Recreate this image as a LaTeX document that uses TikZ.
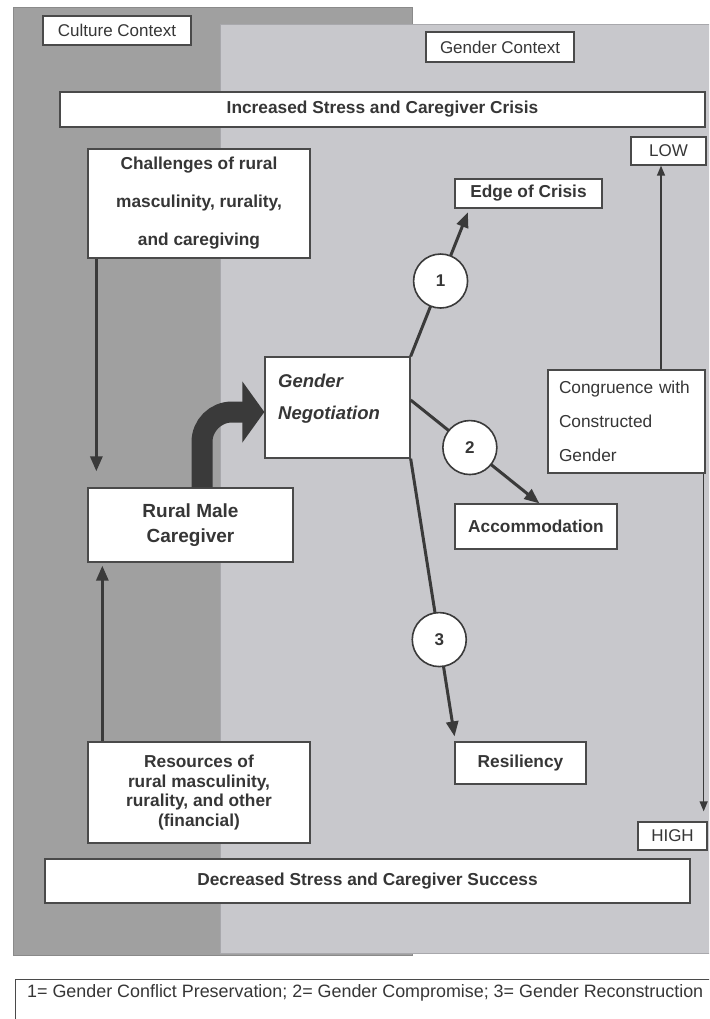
\documentclass[tikz,border=0pt]{standalone}
\usepackage{fontspec}
\setmainfont{Liberation Sans}
\usetikzlibrary{arrows.meta}
\definecolor{darkpanel}{HTML}{A0A0A0}
\definecolor{darkedge}{HTML}{8A8A8A}
\definecolor{lightpanel}{HTML}{C8C8CC}
\definecolor{lightedge}{HTML}{A8A8AC}
\definecolor{boxline}{HTML}{4A4A4A}
\definecolor{txt}{HTML}{363636}
\definecolor{arrowc}{HTML}{3A3A3A}
\newcommand\myfs[2]{\fontsize{#1}{#2}\selectfont}
\begin{document}
\begin{tikzpicture}[x=1pt,y=-1pt,
  box/.style={draw=boxline, fill=white, line width=1.3pt, inner sep=0pt, text=txt, align=center, font=\myfs{17}{20}},
  bbox/.style={box, font=\bfseries\myfs{17.3}{20}},
  circ/.style={circle, draw=arrowc, fill=white, line width=1.6pt, minimum size=54pt, inner sep=0pt, text=txt, font=\bfseries\myfs{17}{20}},
  conn/.style={draw=arrowc, line width=3pt, -{Triangle[length=15pt,width=12pt]}},
  thinarr/.style={draw=arrowc, line width=1.4pt, -{Triangle[length=10pt,width=8pt]}},
  bigarrow/.style={draw=arrowc, line width=21pt, -{Triangle[length=22pt,width=60pt]}}
]
\useasboundingbox (0,0) rectangle (709,1019);
\clip (0,0) rectangle (709,1019);
\fill[white] (0,0) rectangle (709,1019);
% panels
\filldraw[fill=darkpanel, draw=darkedge, line width=1pt] (13,8) rectangle (412,955);
\filldraw[fill=lightpanel, draw=lightedge, line width=1pt] (220,25) rectangle (715,953);
% boxes
\node[box, minimum width=148pt, minimum height=29pt] (culture) at (117,30.5) {Culture Context};
\node[box, minimum width=148pt, minimum height=30pt] (gender) at (500,47) {Gender Context};
\node[bbox, minimum width=645pt, minimum height=35pt] (incr) at (382.5,109.5) {Increased Stress and Caregiver Crisis};
\node[box, minimum width=75pt, minimum height=28pt] (low) at (668.5,151) {LOW};
\node[bbox, minimum width=147pt, minimum height=29pt] (edge) at (528.5,193.5) {Edge of Crisis};
\node[bbox, minimum width=222pt, minimum height=109pt, font=\bfseries\myfs{17.3}{38}] (chall) at (199,203.5) {Challenges of rural\\masculinity, rurality,\\and caregiving};
\node[box, minimum width=145pt, minimum height=101pt] (neg) at (337.5,407.5) {};
\node[anchor=west, inner sep=0pt, align=left, text=txt, font=\bfseries\itshape\myfs{18.5}{32}] (negtxt) at (278,399) {Gender\\Negotiation};
\node[box, minimum width=157pt, minimum height=103pt, text width=135pt, align=left, font=\myfs{17.3}{34}] (cong) at (626.5,421.5) {Congruence with\\Constructed\\Gender};
\node[bbox, minimum width=162pt, minimum height=45pt] (accom) at (536,526.5) {Accommodation};
\node[bbox, minimum width=205pt, minimum height=74pt, font=\bfseries\myfs{19}{25}] (rmc) at (190.5,525) {Rural Male\\Caregiver};
\node[bbox, minimum width=131pt, minimum height=42pt] (resil) at (520.5,763) {Resiliency};
\node[bbox, minimum width=222pt, minimum height=101pt, font=\bfseries\myfs{17.3}{19.5}] (res) at (199,792.5) {Resources of\\rural masculinity,\\rurality, and other\\(financial)};
\node[box, minimum width=69pt, minimum height=28pt] (high) at (672.5,836) {HIGH};
\node[bbox, minimum width=645pt, minimum height=44pt] (decr) at (367.5,881) {Decreased Stress and Caregiver Success};
\node[box, minimum width=710pt, minimum height=52pt, anchor=north west] (legend) at (15,979) {};
\node[anchor=west, inner sep=0pt, text=txt, font=\myfs{17.9}{20}] (legtxt) at (27,993) {1= Gender Conflict Preservation; 2= Gender Compromise; 3= Gender Reconstruction};
% connectors on the left
\draw[conn, shorten >=16pt] ([xshift=9pt]chall.south west) -- ([xshift=9pt]rmc.north west);
\draw[conn, shorten >=3pt] ([xshift=15pt]res.north west) -- ([xshift=15pt]rmc.south west);
\draw[bigarrow, rounded corners=30pt] ([xshift=11.5pt]rmc.north) |- ([yshift=-4.5pt]neg.west);
% outcome paths
\draw[conn, shorten >=4pt] (neg.north east) -- node[circ, pos=0.51] (c1) {1} ([xshift=15pt]edge.south west);
\draw[conn] ([yshift=7.5pt]neg.east) -- node[circ, pos=0.46] (c2) {2} ([xshift=85pt]accom.north west);
\draw[conn, shorten >=5pt] (neg.south east) -- node[circ, pos=0.64] (c3) {3} ([xshift=1pt]resil.north west);
% congruence scale
\coordinate (lowx) at ([xshift=-7.5pt]low.south);
\draw[thinarr] (cong.north -| lowx) -- (lowx);
\draw[thinarr, shorten >=10pt] ([xshift=-2pt]cong.south east) -- ([xshift=-4pt]high.north east);
\end{tikzpicture}
\end{document}
